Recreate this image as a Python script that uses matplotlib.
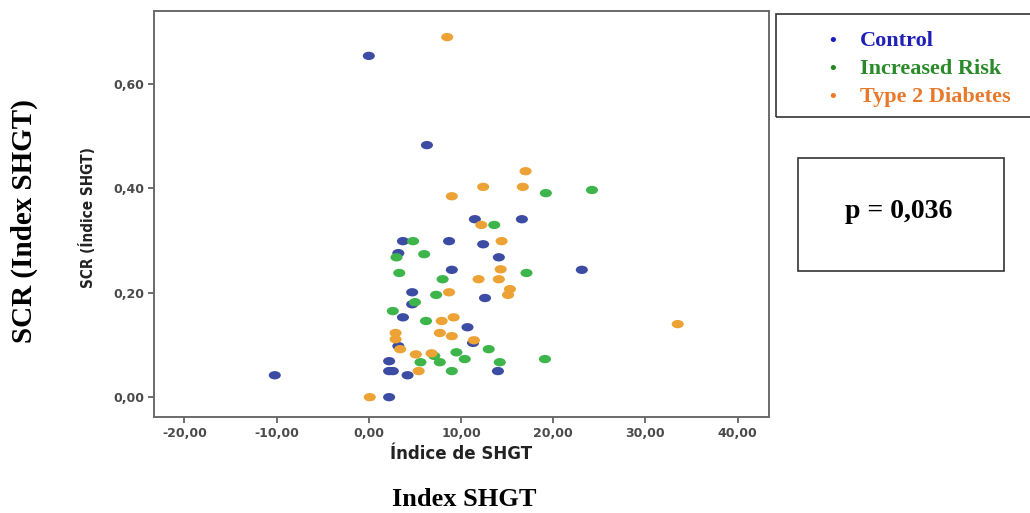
import matplotlib.pyplot as plt
from matplotlib.markers import MarkerStyle
from matplotlib.transforms import Affine2D
from matplotlib.patches import Rectangle

# Control
ctrl_x = [0.0, 6.3, -10.2, 2.2, 3.7, 8.7, 11.5, 16.6, 12.4, 14.1, 9.0, 23.1, 4.7,
          4.7, 3.2, 3.7, 12.6, 10.7, 11.3, 3.2, 2.2, 2.2, 2.6, 4.2, 14.0]
ctrl_y = [0.654, 0.483, 0.042, 0.0, 0.299, 0.299, 0.341, 0.341, 0.293, 0.268, 0.244, 0.244, 0.201,
          0.178, 0.276, 0.153, 0.190, 0.134, 0.104, 0.098, 0.069, 0.050, 0.050, 0.042, 0.050]

# Increased risk
risk_x = [4.8, 3.0, 6.0, 3.3, 8.0, 7.3, 5.0, 2.6, 6.2, 7.1, 9.5, 5.6, 7.7, 9.0,
          13.6, 19.2, 24.2, 17.1, 13.0, 10.4, 14.2, 19.1]
risk_y = [0.299, 0.268, 0.274, 0.238, 0.226, 0.196, 0.182, 0.165, 0.146, 0.079, 0.086, 0.067, 0.067, 0.050,
          0.330, 0.391, 0.397, 0.238, 0.092, 0.073, 0.067, 0.073]

# Type 2 diabetes
dm_x = [8.5, 9.0, 17.0, 12.4, 16.7, 12.2, 14.4, 14.3, 11.9, 14.1, 15.3, 15.1, 8.7,
        7.9, 9.2, 2.9, 2.9, 7.7, 9.0, 3.4, 5.1, 6.8, 11.4, 5.4, 0.1, 33.5]
dm_y = [0.690, 0.385, 0.433, 0.403, 0.403, 0.330, 0.299, 0.245, 0.226, 0.226, 0.207, 0.196, 0.201,
        0.146, 0.153, 0.123, 0.111, 0.123, 0.117, 0.092, 0.082, 0.084, 0.109, 0.050, 0.0, 0.140]

groups = ["Control", "Increased Risk", "Type 2 Diabetes"]
dot_colors = ["#3d4ca3", "#3db54b", "#eca234"]
text_colors = ["#2020b8", "#2a8a2a", "#e8782a"]
bullet_colors = ["#1a1acc", "#1f8a1f", "#f07a2a"]

xticks = [-20, -10, 0, 10, 20, 30, 40]
yticks = [0.0, 0.2, 0.4, 0.6]

W, H = 1030, 513
fig = plt.figure(figsize=(W / 100, H / 100), dpi=100)
ax = fig.add_axes([154 / W, 1 - 417 / H, 615 / W, 406 / H])

oval = MarkerStyle("o", transform=Affine2D().scale(1.45, 1.0))
for xs, ys, c in zip([ctrl_x, risk_x, dm_x], [ctrl_y, risk_y, dm_y], dot_colors):
    ax.scatter(xs, ys, marker=oval, s=36, color=c, edgecolors="none", zorder=3)

ax.set_xlim(-23.3, 43.4)
ax.set_ylim(-0.038, 0.740)
ax.set_xticks(xticks)
ax.set_xticklabels([f"{v:.2f}".replace(".", ",") for v in xticks])
ax.set_yticks(yticks)
ax.set_yticklabels([f"{v:.2f}".replace(".", ",") for v in yticks])
ax.tick_params(direction="out", length=4, width=1.2, color="#555555",
               labelsize=9, labelcolor="#4a4a4a", pad=3)
for lab in ax.get_xticklabels() + ax.get_yticklabels():
    lab.set_fontweight("bold")
for sp in ax.spines.values():
    sp.set_color("#6a6a6a")
    sp.set_linewidth(1.4)

ax.set_xlabel("Índice de SHGT", fontsize=12, fontweight="bold", color="#222222", labelpad=3)
ax.xaxis.set_label_coords(0.50, -0.068)
ax.set_ylabel("SCR (Índice SHGT)", fontsize=11, fontweight="bold", color="#222222",
              family="DejaVu Sans", fontstretch="condensed")
ax.yaxis.set_label_coords(-0.094, 0.49)

# outer English labels
fig.text(24 / W, 1 - 221 / H, "SCR (Index SHGT)", rotation=90, ha="center", va="center",
         family="Liberation Serif", fontsize=21, fontweight="bold")
fig.text(464 / W, 1 - 500 / H, "Index SHGT", ha="center", va="center",
         family="Liberation Serif", fontsize=19, fontweight="bold")

# legend box
fig.add_artist(Rectangle((776 / W, 1 - 117 / H), 260 / W, 103 / H, transform=fig.transFigure,
                         fill=False, edgecolor="#333333", linewidth=1.2))
for i, (g, tc, bc) in enumerate(zip(groups, text_colors, bullet_colors)):
    yy = 1 - (41 + i * 28) / H
    fig.text(833 / W, yy, "•", ha="center", va="center", color=bc, fontsize=14,
             family="Liberation Serif", fontweight="bold")
    fig.text(860 / W, yy, g, ha="left", va="center", color=tc, fontsize=16,
             family="Liberation Serif", fontweight="bold")

# p-value box
fig.add_artist(Rectangle((798 / W, 1 - 271 / H), 206 / W, 113 / H, transform=fig.transFigure,
                         fill=False, edgecolor="#333333", linewidth=1.2))
fig.text(899 / W, 1 - 212 / H, "p = 0,036", ha="center", va="center", fontsize=20,
         family="Liberation Serif", fontweight="bold")

fig.savefig("out.png", dpi=100)
